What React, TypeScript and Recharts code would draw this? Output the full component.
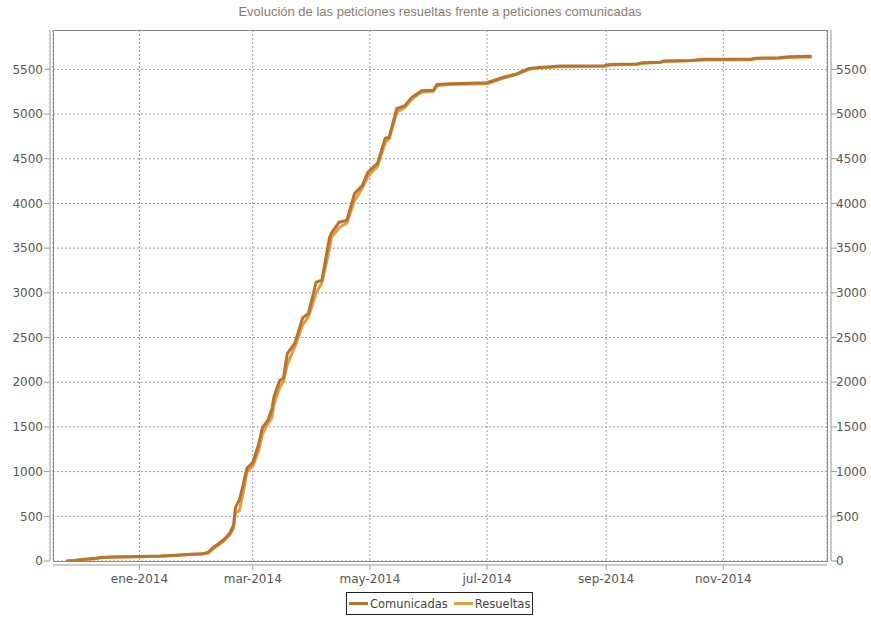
import React from "react";
import { LineChart, Line, XAxis, YAxis, CartesianGrid } from "recharts";

const TITLE = "Evolución de las peticiones resueltas frente a peticiones comunicadas";

const DATES = [
  "2013-11-24", "2013-11-28", "2013-12-01", "2013-12-09", "2013-12-12", "2013-12-17", "2013-12-25",
  "2014-01-01", "2014-01-12", "2014-01-20", "2014-01-28", "2014-02-03", "2014-02-06", "2014-02-08",
  "2014-02-11", "2014-02-14", "2014-02-17", "2014-02-19", "2014-02-20", "2014-02-22", "2014-02-24",
  "2014-02-26", "2014-03-01", "2014-03-04", "2014-03-06", "2014-03-09", "2014-03-11", "2014-03-12",
  "2014-03-15", "2014-03-17", "2014-03-19", "2014-03-23", "2014-03-27", "2014-03-30", "2014-04-03",
  "2014-04-06", "2014-04-10", "2014-04-11", "2014-04-15", "2014-04-19", "2014-04-23", "2014-04-27",
  "2014-04-30", "2014-05-05", "2014-05-09", "2014-05-11", "2014-05-15", "2014-05-19", "2014-05-23",
  "2014-05-28", "2014-06-03", "2014-06-05", "2014-06-12", "2014-07-01", "2014-07-08", "2014-07-11",
  "2014-07-16", "2014-07-23", "2014-07-28", "2014-08-08", "2014-08-31", "2014-09-03", "2014-09-17",
  "2014-09-20", "2014-09-29", "2014-10-01", "2014-10-15", "2014-10-22", "2014-11-15", "2014-11-18",
  "2014-11-30", "2014-12-05", "2014-12-17",
];

const COMUNICADAS = [
  0, 5, 15, 30, 40, 45, 48,
  50, 55, 65, 75, 80, 100, 145,
  190, 240, 310, 400, 600, 680, 850,
  1040, 1100, 1300, 1490, 1580, 1700, 1830,
  2020, 2045, 2320, 2440, 2720, 2770, 3120,
  3140, 3620, 3670, 3790, 3810, 4110, 4200,
  4350, 4450, 4730, 4740, 5060, 5090, 5190,
  5260, 5265, 5330, 5340, 5350, 5400, 5420,
  5445, 5510, 5520, 5537, 5540, 5555, 5560,
  5575, 5580, 5593, 5600, 5612, 5612, 5625,
  5630, 5640, 5645,
];

const RESUELTAS = [
  0, 3, 10, 25, 35, 42, 46,
  48, 53, 62, 72, 78, 92, 130,
  175, 225, 290, 370, 540, 560, 760,
  1000, 1060, 1230, 1420, 1540, 1600, 1750,
  1940, 2010, 2200, 2400, 2640, 2730, 3000,
  3110, 3500, 3620, 3730, 3780, 4030, 4170,
  4300, 4420, 4680, 4720, 5020, 5070, 5170,
  5245, 5255, 5320, 5330, 5340, 5390, 5410,
  5440, 5500, 5515, 5530, 5535, 5548, 5555,
  5568, 5575, 5588, 5595, 5605, 5608, 5618,
  5625, 5632, 5638,
];

const X_TICKS = ["2014-01-01", "2014-03-01", "2014-05-01", "2014-07-01", "2014-09-01", "2014-11-01"];
const X_DOMAIN = ["2013-11-17", "2014-12-25"];
const Y_TICKS = [0, 500, 1000, 1500, 2000, 2500, 3000, 3500, 4000, 4500, 5000, 5500];
const Y_MAX = 5940;
const MONTHS = ["ene", "feb", "mar", "abr", "may", "jun", "jul", "ago", "sep", "oct", "nov", "dic"];

const SERIES = [
  { key: "comunicadas", name: "Comunicadas", color: "#B8742C" },
  { key: "resueltas", name: "Resueltas", color: "#E89C3C" },
];

const toTs = (s: string) => Date.parse(s + "T00:00:00Z");

const data = DATES.map((d, i) => ({
  t: toTs(d),
  comunicadas: COMUNICADAS[i],
  resueltas: RESUELTAS[i],
}));

const fmtMonth = (v: number) => {
  const d = new Date(v);
  return `${MONTHS[d.getUTCMonth()]}-${d.getUTCFullYear()}`;
};

const FONT = "'DejaVu Sans', sans-serif";
const tickStyle = { fill: "#555", fontSize: 12, fontFamily: FONT };

export default function App() {
  return (
    <div style={{ position: "absolute", left: 0, top: 0, width: 871, height: 617, background: "#fff" }}>
      <div
        style={{
          position: "absolute",
          left: 0,
          top: 4,
          width: 880,
          textAlign: "center",
          fontFamily: "'Liberation Sans', Arial, sans-serif",
          fontSize: 13,
          color: "#8C7C6C",
        }}
      >
        {TITLE}
      </div>
      <LineChart
        width={871}
        height={617}
        data={data}
        margin={{ top: 30, right: 0, bottom: 0, left: 0 }}
      >
        <CartesianGrid
          yAxisId="left"
          stroke="#9a9a9a"
          strokeDasharray="2 2"
          horizontalValues={Y_TICKS}
        />
        <XAxis
          dataKey="t"
          type="number"
          scale="linear"
          domain={[toTs(X_DOMAIN[0]), toTs(X_DOMAIN[1])]}
          ticks={X_TICKS.map(toTs)}
          tickFormatter={fmtMonth}
          height={56}
          tick={tickStyle}
          tickSize={5}
          tickMargin={8}
          axisLine={{ stroke: "#999", transform: "translate(0,4)" }}
          tickLine={{ stroke: "#999", transform: "translate(0,4)" }}
          allowDataOverflow
        />
        <YAxis
          yAxisId="left"
          orientation="left"
          width={53}
          domain={[0, Y_MAX]}
          ticks={Y_TICKS}
          tick={tickStyle}
          tickSize={6}
          tickMargin={4}
          axisLine={{ stroke: "#999", transform: "translate(-3,0)" }}
          tickLine={{ stroke: "#999", transform: "translate(-3,0)" }}
          allowDataOverflow
        />
        <YAxis
          yAxisId="right"
          orientation="right"
          width={44}
          domain={[0, Y_MAX]}
          ticks={Y_TICKS}
          tick={tickStyle}
          tickSize={6}
          tickMargin={3}
          axisLine={{ stroke: "#999", transform: "translate(4,0)" }}
          tickLine={{ stroke: "#999", transform: "translate(4,0)" }}
          allowDataOverflow
        />
        <Line
          yAxisId="right"
          type="linear"
          dataKey="resueltas"
          name="Resueltas"
          stroke={SERIES[1].color}
          strokeWidth={3}
          dot={false}
          isAnimationActive={false}
        />
        <Line
          yAxisId="left"
          type="linear"
          dataKey="comunicadas"
          name="Comunicadas"
          stroke={SERIES[0].color}
          strokeWidth={3}
          dot={false}
          isAnimationActive={false}
        />
      </LineChart>
      <div
        style={{
          position: "absolute",
          left: 53,
          top: 30,
          width: 773,
          height: 530,
          border: "1px solid #888",
          pointerEvents: "none",
        }}
      />
      <div
        style={{
          position: "absolute",
          left: 346,
          top: 592,
          width: 185,
          height: 21,
          border: "1px solid #222",
          display: "flex",
          alignItems: "center",
          fontFamily: FONT,
          fontSize: 11.5,
          color: "#444",
          boxSizing: "content-box",
        }}
      >
        {SERIES.map((s, i) => (
          <div key={s.key} style={{ display: "flex", alignItems: "center", marginLeft: i === 0 ? 2 : 6 }}>
            <span style={{ display: "inline-block", width: 19, height: 3, background: s.color, marginRight: 2 }} />
            <span>{s.name}</span>
          </div>
        ))}
      </div>
    </div>
  );
}
